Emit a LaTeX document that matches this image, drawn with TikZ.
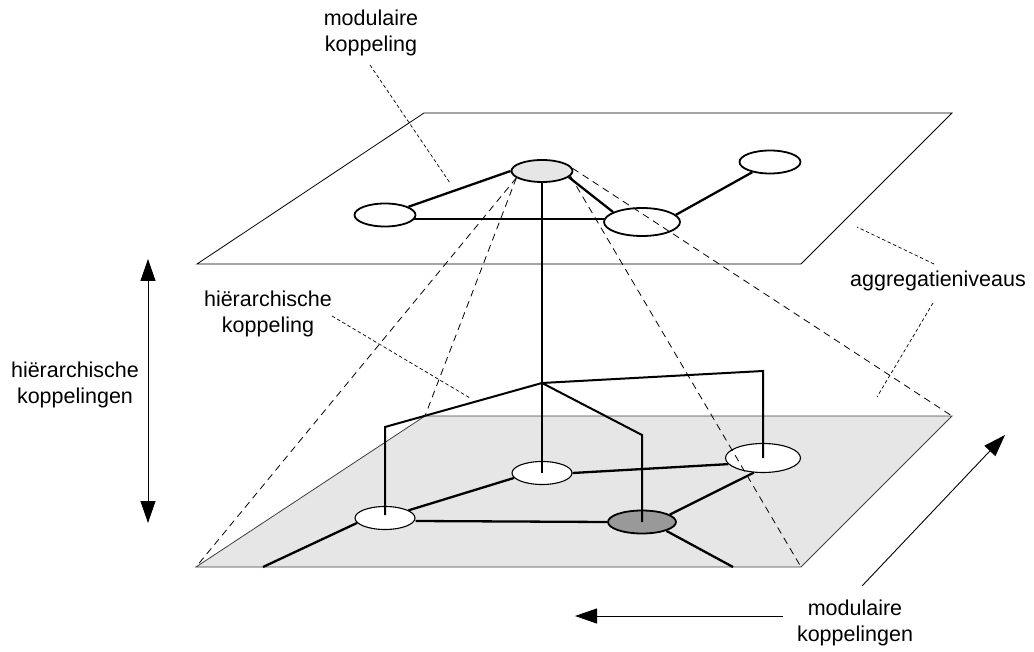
\documentclass[tikz,border=0pt]{standalone}
\usepackage{fontspec}
\setmainfont{Liberation Sans}
\usetikzlibrary{shapes.geometric,arrows.meta,calc}
\definecolor{planefill}{HTML}{E6E6E6}
\definecolor{darknode}{HTML}{999999}
\pgfdeclarelayer{back}
\pgfdeclarelayer{front}
\pgfsetlayers{back,main,front}

\begin{document}
\begin{tikzpicture}[x=1pt,y=-1pt,
  unitnode/.style={ellipse, draw, line width=1.8pt, fill=white, inner sep=0pt},
  lownode/.style={unitnode, line width=1.1pt},
  link/.style={line width=2.3pt},
  tie/.style={line width=2pt, line join=miter},
  planeedge/.style={line width=0.8pt, line join=miter},
  proj/.style={dash pattern=on 7pt off 5pt, line width=0.8pt},
  leader/.style={dash pattern=on 3.5pt off 2.5pt, line width=0.7pt},
  txt/.style={align=center, font=\fontsize{21.5}{26.5}\selectfont, inner sep=0pt},
  bigarrow/.style={line width=0.9pt, -{Triangle[length=22pt,width=15pt]}}
]
\useasboundingbox (0,0) rectangle (1034,652);

% plane corners
\coordinate (TA) at (197,264); \coordinate (TB) at (424,113);
\coordinate (TC) at (952,113); \coordinate (TD) at (801,264);
\coordinate (BA) at (196,567); \coordinate (BB) at (425,416);
\coordinate (BC) at (952,416); \coordinate (BD) at (801,567);

% upper aggregation level
\node[unitnode, fill=planefill, minimum width=61pt, minimum height=22pt] (g) at (542,171) {};
\node[unitnode, minimum width=61pt, minimum height=23pt] (tl) at (385,215) {};
\node[unitnode, minimum width=76pt, minimum height=28pt] (tm) at (642,222) {};
\node[unitnode, minimum width=61pt, minimum height=23pt] (tr) at (770,162) {};

% lower aggregation level
\node[lownode, minimum width=60pt, minimum height=23pt] (bl) at (385,518) {};
\node[lownode, minimum width=60pt, minimum height=23pt] (bc) at (542,473) {};
\node[lownode, minimum width=75pt, minimum height=29pt] (br) at (763,458) {};
\node[unitnode, fill=darknode, minimum width=68pt, minimum height=23pt] (bd) at (642,522) {};

\coordinate (pl) at (263,567);
\coordinate (pr) at (733,567);

\begin{pgfonlayer}{back}
  \filldraw[planeedge, fill=planefill, draw=black!75] (BA) -- (BB) -- (BC) -- (BD) -- cycle;
  \draw[planeedge] (TA) -- (TB) -- (TC) -- (TD) -- cycle;
  % modular couplings, upper level
  \draw[link] (g.west) -- (tl);
  \draw[link] ($(tl)+(0,4)$) -- ($(tm)+(0,-3)$);
  \draw[link] (g.-13) -- (tm.161);
  \draw[link] (tm.12) -- (tr.210);
  % modular couplings, lower level
  \draw[link] (bl.18) -- (bc.190);
  \draw[link] ($(bl.east)+(0,3)$) -- (bd.west);
  \draw[link] (bl.190) -- (pl);
  \draw[link] (bc.east) -- (br.190);
  \draw[link] (bd.15) -- (br.238);
  \draw[link] (bd.-20) -- (pr);
\end{pgfonlayer}

\begin{pgfonlayer}{front}
  % hierarchical couplings
  \coordinate (hub) at (542,383);
  \coordinate (kl) at (385,427);
  \coordinate (kr) at (763,371);
  \coordinate (kd) at (642,435);
  \draw[tie] (g.south) -- (hub) -- (bc.center);
  \draw[tie] (hub) -- (kl) -- ($(bl.center)+(0,-3)$);
  \draw[tie] (hub) -- (kr) -- (br.center);
  \draw[tie] (hub) -- (kd) -- (bd.center);
  % projection of the upper node onto the lower level
  \draw[proj] (g.195) -- (BA);
  \draw[proj] (g.195) -- (BB);
  \draw[proj] (g.-10) -- (BD);
  \draw[proj] (g.5) -- (BC);
\end{pgfonlayer}

% labels
\node[txt] (lmk) at (371,33) {modulaire\\koppeling};
\node[txt] (lhk) at (268,314) {hiërarchische\\koppeling};
\node[txt] (lhks) at (75,385) {hiërarchische\\koppelingen};
\node[txt] (lag) at (938,281) {aggregatieniveaus};
\node[txt] (lmks) at (855,623) {modulaire\\koppelingen};

% label leaders
\coordinate (e1) at (450,183);
\coordinate (e2) at (470,398);
\coordinate (e3) at (857,227);
\coordinate (e4) at (877,397);
\draw[leader] (370,65) -- (e1);
\draw[leader] (332,316) -- (e2);
\draw[leader] (934,264) -- (e3);
\draw[leader] (933,303) -- (e4);

% direction arrows
\coordinate (v1) at (148,259); \coordinate (v2) at (148,523);
\coordinate (d1) at (862,586); \coordinate (d2) at (1005,435);
\coordinate (h1) at (783,616); \coordinate (h2) at (575,616);
\draw[bigarrow, {Triangle[length=22pt,width=15pt]}-{Triangle[length=22pt,width=15pt]}] (v2) -- (v1);
\draw[bigarrow] (d1) -- (d2);
\draw[bigarrow] (h1) -- (h2);
\end{tikzpicture}
\end{document}
